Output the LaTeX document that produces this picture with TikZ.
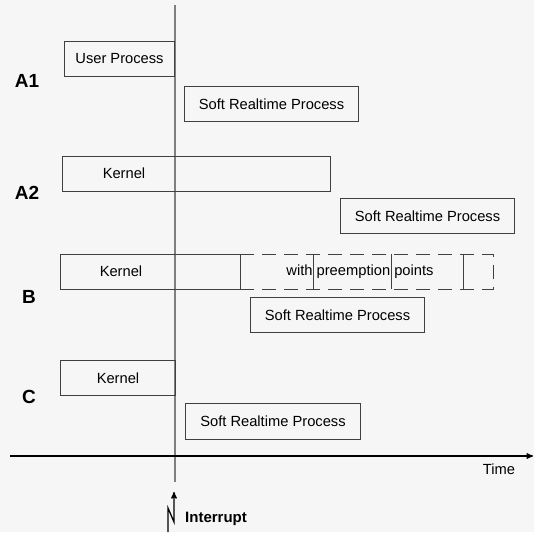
\documentclass[tikz,border=0pt]{standalone}
\usepackage{fontspec}
\setmainfont{Liberation Sans}
\usepackage{tikz}
\usetikzlibrary{arrows, positioning}
\definecolor{bggray}{HTML}{F6F6F6}
\definecolor{linegray}{HTML}{808080}
\tikzstyle{slot}=[rectangle, draw=black!75, line width=1pt, inner sep=0pt, anchor=north west, font=\fontsize{14.7}{16}\selectfont]
\tikzstyle{caption}=[inner sep=0pt, font=\fontsize{14.7}{16}\selectfont]
\tikzstyle{case}=[inner sep=0pt, font=\fontsize{19}{22}\selectfont\bfseries]

\begin{document}
\begin{tikzpicture}[x=1pt, y=-1pt]
  \useasboundingbox (0,0) rectangle (534,532);
  \fill[bggray] (0,0) rectangle (534,532);

  % interrupt instant
  \draw[linegray, line width=1.3pt] (175,5) coordinate (itop) -- (175,482) coordinate (ibot);

  % case labels
  \node[case] (A1) at (27,81) {A1};
  \node[case] (A2) at (27,193) {A2};
  \node[case] (B) at (29,297) {B};
  \node[case] (C) at (29,397) {C};

  % A1
  \node[slot, minimum width=110pt, minimum height=35pt] (userA1) at (64,41) {User Process};
  \node[slot, minimum width=174pt, minimum height=35pt] (srpA1) at (184,86) {Soft Realtime Process};

  % A2
  \node[slot, minimum width=268pt, minimum height=35pt] (kernA2) at (62,156) {};
  \node[caption] (kernA2txt) at (124,173) {Kernel};
  \node[slot, minimum width=174pt, minimum height=35pt] (srpA2) at (340,198) {Soft Realtime Process};

  % B
  \node[slot, minimum width=180pt, minimum height=35pt] (kernB) at (60,254) {};
  \node[caption] (kernBtxt) at (121,271) {Kernel};
  \node[inner sep=0pt, anchor=north west, minimum width=253pt, minimum height=35pt] (preempt) at (240,254) {};
  \draw[black!75, line width=1pt, dash pattern=on 14pt off 8pt]
     (preempt.north west) -- (preempt.north east) -- (preempt.south east) -- (preempt.south west);
  \foreach \px in {313,391,463}
    \draw[black!75, line width=1pt] (\px,254) -- (\px,289);
  \node[caption] (pptxt) at (360,272) {with preemption points};
  \node[slot, minimum width=174pt, minimum height=35pt] (srpB) at (250,297) {Soft Realtime Process};

  % C
  \node[slot, minimum width=115pt, minimum height=35pt] (kernC) at (60,360) {};
  \node[caption] (kernCtxt) at (118,378) {Kernel};
  \node[slot, minimum width=175pt, minimum height=36pt] (srpC) at (185,403) {Soft Realtime Process};

  % time axis
  \coordinate (t0) at (10,456);
  \coordinate (t1) at (533,456);
  \draw[->, >=stealth', line width=1.3pt] (t0) -- (t1);
  \node[caption] (time) at (499,469) {Time};

  % interrupt
  \coordinate (z0) at (168,532);
  \coordinate (z1) at (168,508);
  \coordinate (z2) at (174,522);
  \coordinate (z3) at (174,492);
  \draw[->, >=stealth', line width=1.3pt] (z0) -- (z1) -- (z2) -- (z3);
  \node[caption, font=\fontsize{15}{16}\selectfont\bfseries] (intr) at (216,519) {Interrupt};
\end{tikzpicture}
\end{document}
